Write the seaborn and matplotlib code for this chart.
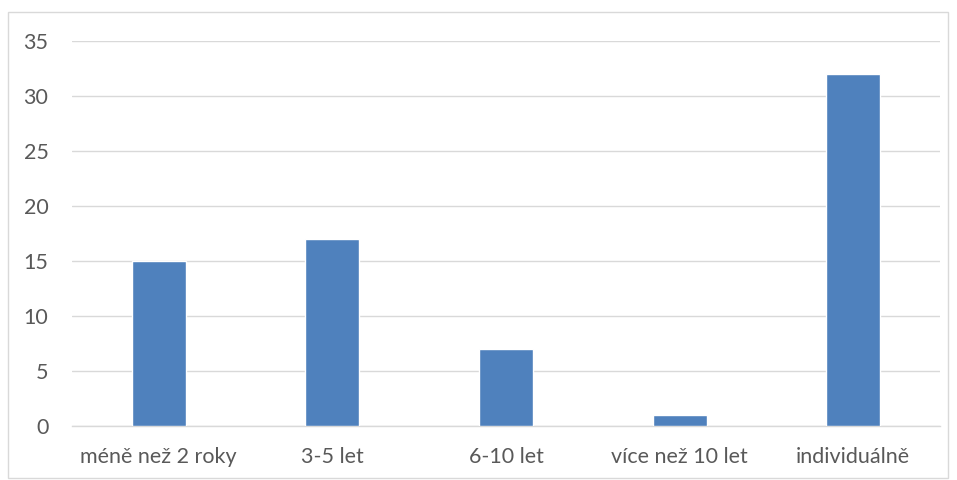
import matplotlib
matplotlib.use("Agg")
import matplotlib.pyplot as plt
import seaborn as sns
import pandas as pd
from matplotlib.patches import Rectangle

categories = ["méně než 2 roky", "3-5 let", "6-10 let", "více než 10 let", "individuálně"]
values = [15, 17, 7, 1, 32]
yticks = [0, 5, 10, 15, 20, 25, 30, 35]

sns.set_theme(style="white")
plt.rcParams['font.family'] = ['Lato', 'DejaVu Sans']

df = pd.DataFrame({"cat": categories, "val": values})

fig = plt.figure(figsize=(9.57, 4.8), dpi=100)
ax = fig.add_axes([72/957, 54/480, (940-72)/957, (426-41)/480])
sns.barplot(data=df, x="cat", y="val", color="#4F81BD", saturation=1, width=0.31, ax=ax, zorder=3)
ax.set_ylim(0, 35)
ax.set_yticks(yticks)
ax.set_xlim(-0.5, 4.5)
ax.grid(axis="y", color="#D9D9D9", linewidth=1, zorder=0)
for s in ["top", "right", "left"]:
    ax.spines[s].set_visible(False)
ax.spines["bottom"].set_color("#D9D9D9")
ax.spines["bottom"].set_linewidth(1)
ax.set_xlabel("")
ax.set_ylabel("")
ax.tick_params(axis="both", length=0, labelsize=15.5, labelcolor="#595959")
ax.tick_params(axis="y", pad=17)
ax.tick_params(axis="x", pad=15)

fig.patches.append(Rectangle((8/957, 2/480), (948-8)/957, (468-2)/480, transform=fig.transFigure,
                             fill=False, edgecolor="#D9D9D9", linewidth=1))
fig.savefig("out.png", dpi=100)
